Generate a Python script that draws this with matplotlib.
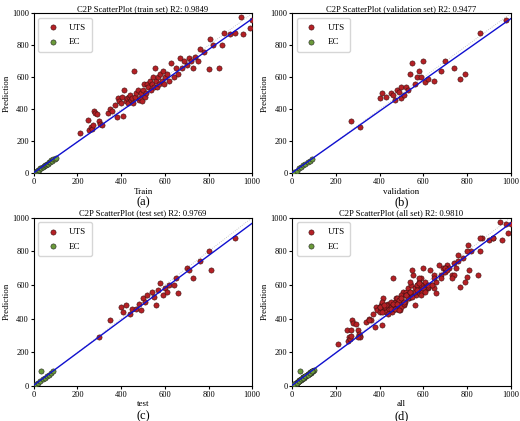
import matplotlib
matplotlib.use("Agg")
import matplotlib.pyplot as plt
import numpy as np

plt.rcParams['font.family'] = ['Liberation Serif', 'DejaVu Serif']

train_uts_x = [210,250,255,260,265,270,275,280,290,300,305,310,340,350,360,370,380,385,390,400,405,410,415,420,425,430,435,440,445,450,455,460,465,470,475,480,485,490,495,500,505,510,515,520,525,530,535,540,545,550,555,560,565,570,575,580,585,590,595,600,610,620,630,640,650,660,670,680,690,700,710,720,730,740,750,760,780,800,805,820,850,860,870,900,920,950,960,990,1000]
train_uts_y = [250,335,270,290,280,300,390,375,370,330,310,300,380,400,390,430,350,470,450,440,480,360,520,450,470,440,480,490,460,470,440,640,480,500,520,460,470,500,450,520,560,480,500,560,540,580,520,560,600,540,660,580,540,600,560,620,580,640,560,600,620,580,690,600,660,620,720,660,700,680,720,700,660,730,700,780,760,650,840,800,660,800,880,870,880,975,870,910,960]
val_uts_x = [270,310,400,410,430,450,460,470,480,490,500,500,510,520,530,540,550,560,570,580,590,600,610,620,650,680,700,740,770,790,860,980]
val_uts_y = [330,290,470,500,480,500,490,460,520,510,540,470,490,540,520,620,690,560,600,640,600,700,570,590,580,640,700,660,590,620,880,960]
test_uts_x = [300,350,400,410,420,440,450,470,480,490,500,510,520,540,550,560,570,580,590,600,610,620,640,650,660,700,710,730,760,800,810,920]
test_uts_y = [290,390,470,440,480,430,460,460,490,450,520,500,540,560,530,480,570,610,540,580,560,600,600,640,550,700,690,640,740,800,690,880]

train_ec_x = [5,10,15,20,25,30,35,40,45,50,55,60,65,70,75,80,85,90,95,100]
train_ec_y = [8,12,14,22,24,35,33,42,44,52,50,62,60,72,70,82,80,88,92,98]
val_ec_x = [10,20,30,40,50,60,70,80,90]
val_ec_y = [12,18,32,38,52,58,72,78,88]
test_ec_x = [10,20,30,35,40,50,60,70,80,90]
test_ec_y = [12,20,28,90,42,50,62,68,80,88]

fit_slope = 0.962
fit_intercept = 5

panels = [
    ("C2P ScatterPlot (train set) R2: 0.9849", "Train", "(a)", train_uts_x, train_uts_y, train_ec_x, train_ec_y),
    ("C2P ScatterPlot (validation set) R2: 0.9477", "validation", "(b)", val_uts_x, val_uts_y, val_ec_x, val_ec_y),
    ("C2P ScatterPlot (test set) R2: 0.9769", "test", "(c)", test_uts_x, test_uts_y, test_ec_x, test_ec_y),
    ("C2P ScatterPlot (all set) R2: 0.9810", "all", "(d)",
     train_uts_x + val_uts_x + test_uts_x, train_uts_y + val_uts_y + test_uts_y,
     train_ec_x + val_ec_x + test_ec_x, train_ec_y + val_ec_y + test_ec_y),
]

fig = plt.figure(figsize=(5.2, 4.21), dpi=100)
pos = [(0.065, 0.588, 0.42, 0.38), (0.562, 0.588, 0.42, 0.38),
       (0.065, 0.083, 0.42, 0.40), (0.562, 0.083, 0.42, 0.40)]
for (title, xl, tag, ux, uy, ex, ey), p in zip(panels, pos):
    ax = fig.add_axes(p)
    ax.scatter(ux, uy, s=14, c='#b52025', edgecolors='#3a1010', linewidths=0.4, label='UTS', zorder=3)
    ax.scatter(ex, ey, s=14, c='#6b9a3a', edgecolors='#222222', linewidths=0.4, label='EC', zorder=3)
    xs = np.array([0, 1000])
    ax.plot(xs, xs, ls=':', color='#bbbbbb', lw=0.6, zorder=2)
    ax.plot(xs, fit_slope * xs + fit_intercept, color='#1010d0', lw=1.0, zorder=4)
    ax.set_xlim(0, 1000)
    ax.set_ylim(0, 1000)
    ax.set_xticks([0, 200, 400, 600, 800, 1000])
    ax.set_yticks([0, 200, 400, 600, 800, 1000])
    ax.tick_params(labelsize=6, length=2, pad=1.5)
    ax.set_title(title, fontsize=6.2, pad=2)
    ax.set_xlabel(xl, fontsize=6.5, labelpad=1)
    ax.set_ylabel("Prediction", fontsize=6.5, labelpad=1)
    ax.text(0.5, -0.18, tag, transform=ax.transAxes, ha='center', va='center', fontsize=9)
    ax.legend(loc='upper left', fontsize=6.5, frameon=True, handletextpad=0.8, borderpad=0.6, labelspacing=0.7)

fig.savefig("out.png", dpi=100)
